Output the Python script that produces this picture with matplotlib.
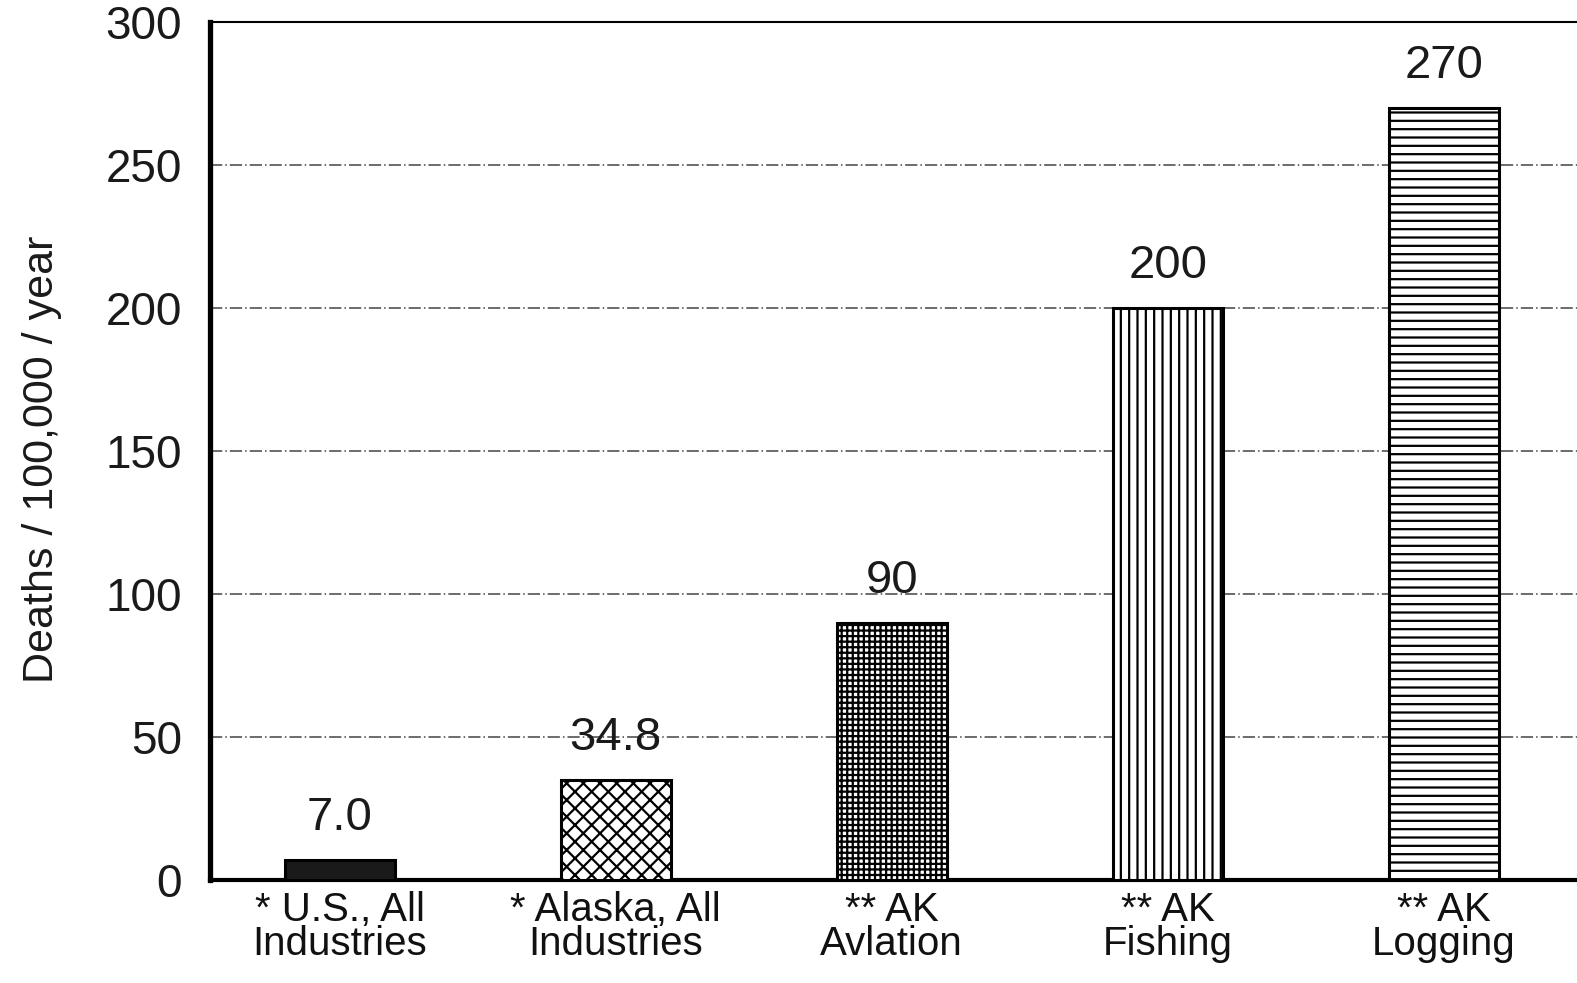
import matplotlib.pyplot as plt
import numpy as np

categories = ["* U.S., All\nIndustries", "* Alaska, All\nIndustries", "** AK\nAvlation",
              "** AK\nFishing", "** AK\nLogging"]
values = [7.0, 34.8, 90, 200, 270]
value_labels = ["7.0", "34.8", "90", "200", "270"]
hatches = ["", "xx", "+++", "||", "--"]
faces = ["#1a1a1a", "white", "white", "white", "white"]
yticks = [0, 50, 100, 150, 200, 250, 300]

plt.rcParams["font.family"] = ["Liberation Sans", "DejaVu Sans"]
plt.rcParams["hatch.linewidth"] = 1.6
plt.rcParams["hatch.color"] = "black"

# axes runs off the right edge of the picture, like the cropped scan
left_px, right_px, top_px, bottom_px = 210, 1607, 22, 880
fig = plt.figure(figsize=(15.77, 9.83), dpi=100)
ax = fig.add_axes([left_px / 1577, 1 - bottom_px / 983,
                   (right_px - left_px) / 1577, (bottom_px - top_px) / 983])

x = np.arange(len(values))
bars = ax.bar(x, values, width=0.40, color=faces, edgecolor="black", linewidth=2.2, zorder=3)
for b, h in zip(bars, hatches):
    b.set_hatch(h)

for xi, v, lab in zip(x, values, value_labels):
    ax.text(xi, v + 7, lab, ha="center", va="bottom", fontsize=34, color="#1a1a1a", zorder=4)

ax.set_xlim(-0.47, -0.47 + (right_px - left_px) / 276)
ax.set_ylim(0, 300)
ax.set_yticks(yticks)
ax.set_yticklabels([str(t) for t in yticks], fontsize=33, color="#1a1a1a")
ax.set_xticks(x)
ax.set_xticklabels(categories, fontsize=29, color="#111111", linespacing=0.85)
ax.tick_params(axis="both", length=0)
ax.tick_params(axis="y", pad=20)
ax.tick_params(axis="x", pad=8)

for t in [50, 100, 150, 200, 250]:
    ax.axhline(t, color="#444444", linewidth=1.1, linestyle=(0, (8, 2, 1, 2)), zorder=1)

ax.spines["left"].set_linewidth(3.8)
ax.spines["bottom"].set_linewidth(3.0)
ax.spines["top"].set_linewidth(1.5)
ax.spines["right"].set_visible(False)

ax.set_ylabel("Deaths / 100,000 / year", fontsize=31, color="#1a1a1a")
ax.yaxis.set_label_coords(-0.106, 0.49)

fig.savefig("out.png", dpi=100)
